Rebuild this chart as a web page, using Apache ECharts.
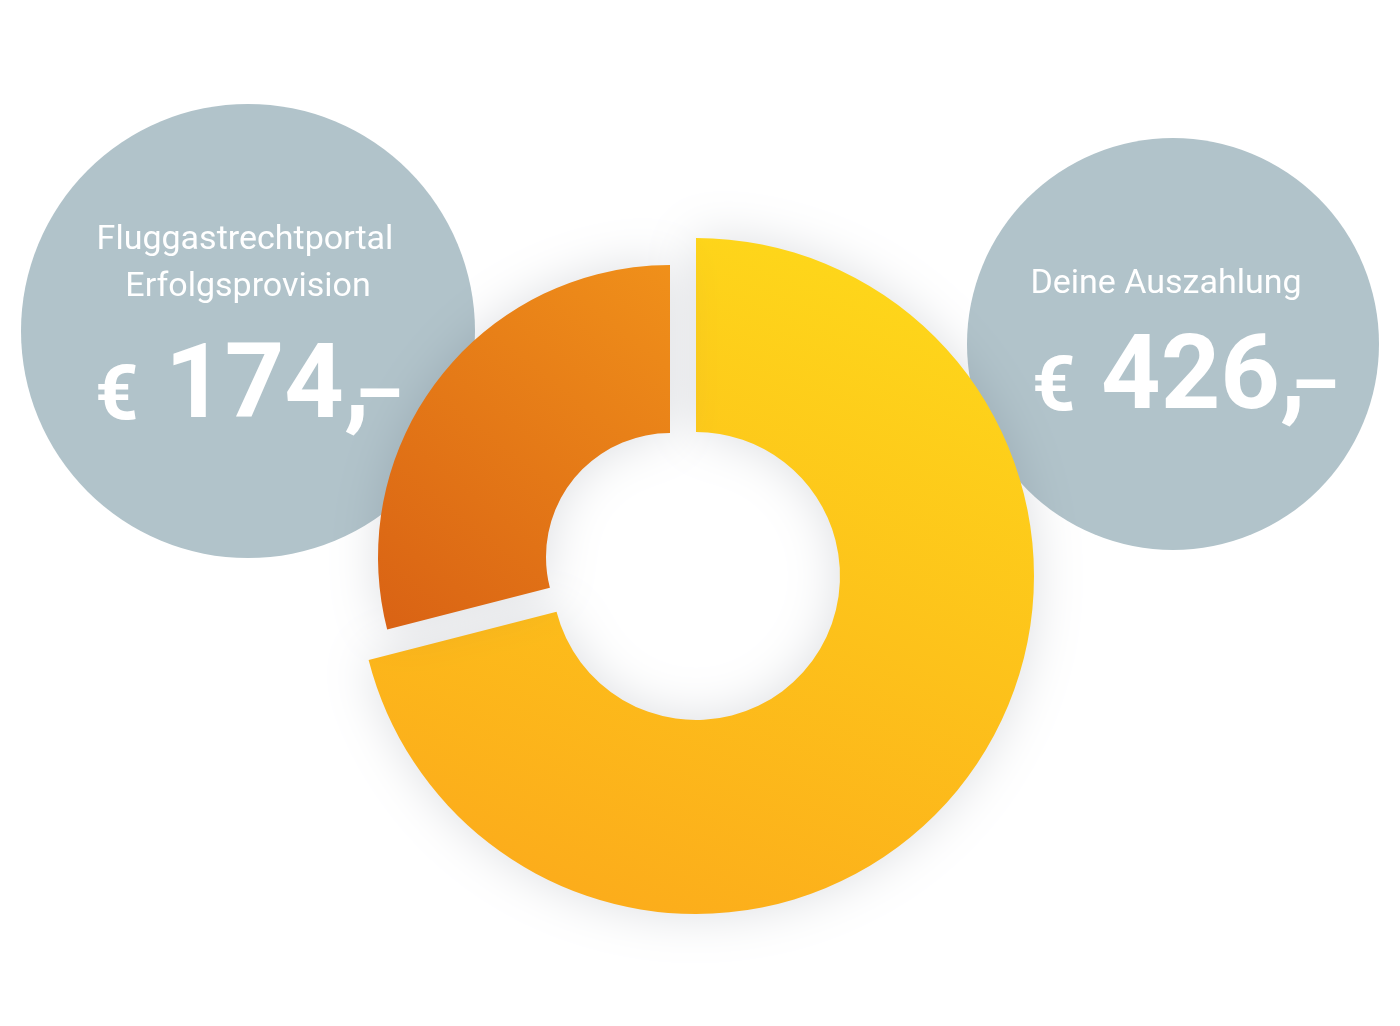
<!DOCTYPE html>
<html><head><meta charset="utf-8">
<script src="https://cdn.jsdelivr.net/npm/echarts@6/dist/echarts.min.js"></script>
<style>html,body{margin:0;padding:0;background:#fff}#c{width:1400px;height:1026px}</style>
</head><body><div id="c"></div>
<script>
// ---- data ----
const sliceNames = ['Deine Auszahlung', 'Fluggastrechtportal Erfolgsprovision'];
const sliceValues = [426, 174];
const captionLeft = ['Fluggastrechtportal', 'Erfolgsprovision'];
const captionRight = ['Deine Auszahlung'];
const currencySymbol = '€';
const amountComma = ',';
const amountDash = '–';

// ---- styles ----
const yellowGrad = {type:'linear', x:0.75, y:0, x2:0.35, y2:1, colorStops:[
  {offset:0, color:'#FED81A'}, {offset:1, color:'#FCAC1B'}]};
const orangeGrad = {type:'linear', x:1, y:0, x2:0, y2:1, colorStops:[
  {offset:0, color:'#F0901A'}, {offset:1, color:'#D96214'}]};
const shadow = {shadowBlur:50, shadowColor:'rgba(50,60,80,0.17)', shadowOffsetX:0, shadowOffsetY:0};
const hidden = {color:'rgba(0,0,0,0)', shadowBlur:0, borderWidth:0};
const grey = '#B1C3CA';

const chart = echarts.init(document.getElementById('c'), null, {renderer:'canvas'});

const bigFont = 'bold 104px Roboto';
const euroFont = 'bold 76px Roboto';
const smallFont = '34px Roboto';

function txt(text, x, y, font, align){
  return {type:'text', z:10, style:{text:text, x:x, y:y, font:font, fill:'#fff', align:align, verticalAlign:'middle'}};
}

chart.setOption({
  animation:false,
  backgroundColor:'#fff',
  graphic:{elements:[
    {type:'circle', z:0, shape:{cx:248, cy:331, r:227}, style:{fill:grey}},
    {type:'circle', z:0, shape:{cx:1173, cy:344, r:206}, style:{fill:grey}},
    txt(captionLeft[0], 245, 240, smallFont, 'center'),
    txt(captionLeft[1], 248, 287, smallFont, 'center'),
    txt(currencySymbol, 95, 400, euroFont, 'left'),
    txt(String(sliceValues[1]) + amountComma, 165, 391, bigFont, 'left'),
    txt(amountDash, 355, 400, euroFont, 'left'),
    txt(captionRight[0], 1166, 284, smallFont, 'center'),
    txt(currencySymbol, 1032, 391, euroFont, 'left'),
    txt(String(sliceValues[0]) + amountComma, 1101, 382, bigFont, 'left'),
    txt(amountDash, 1291, 391, euroFont, 'left')
  ]},
  series:[
    {
      type:'pie', z:2, center:[696,576], radius:[144,338], startAngle:90, clockwise:true,
      silent:true, label:{show:false}, labelLine:{show:false}, emphasis:{disabled:true},
      data:[
        {name:sliceNames[0], value:sliceValues[0], itemStyle:Object.assign({color:yellowGrad}, shadow)},
        {name:sliceNames[1], value:sliceValues[1], itemStyle:hidden}
      ]
    },
    {
      type:'pie', z:3, center:[670,557], radius:[124,292], startAngle:90, clockwise:true,
      silent:true, label:{show:false}, labelLine:{show:false}, emphasis:{disabled:true},
      data:[
        {name:sliceNames[0], value:sliceValues[0], itemStyle:hidden},
        {name:sliceNames[1], value:sliceValues[1], itemStyle:Object.assign({color:orangeGrad}, shadow)}
      ]
    }
  ]
});
</script></body></html>
